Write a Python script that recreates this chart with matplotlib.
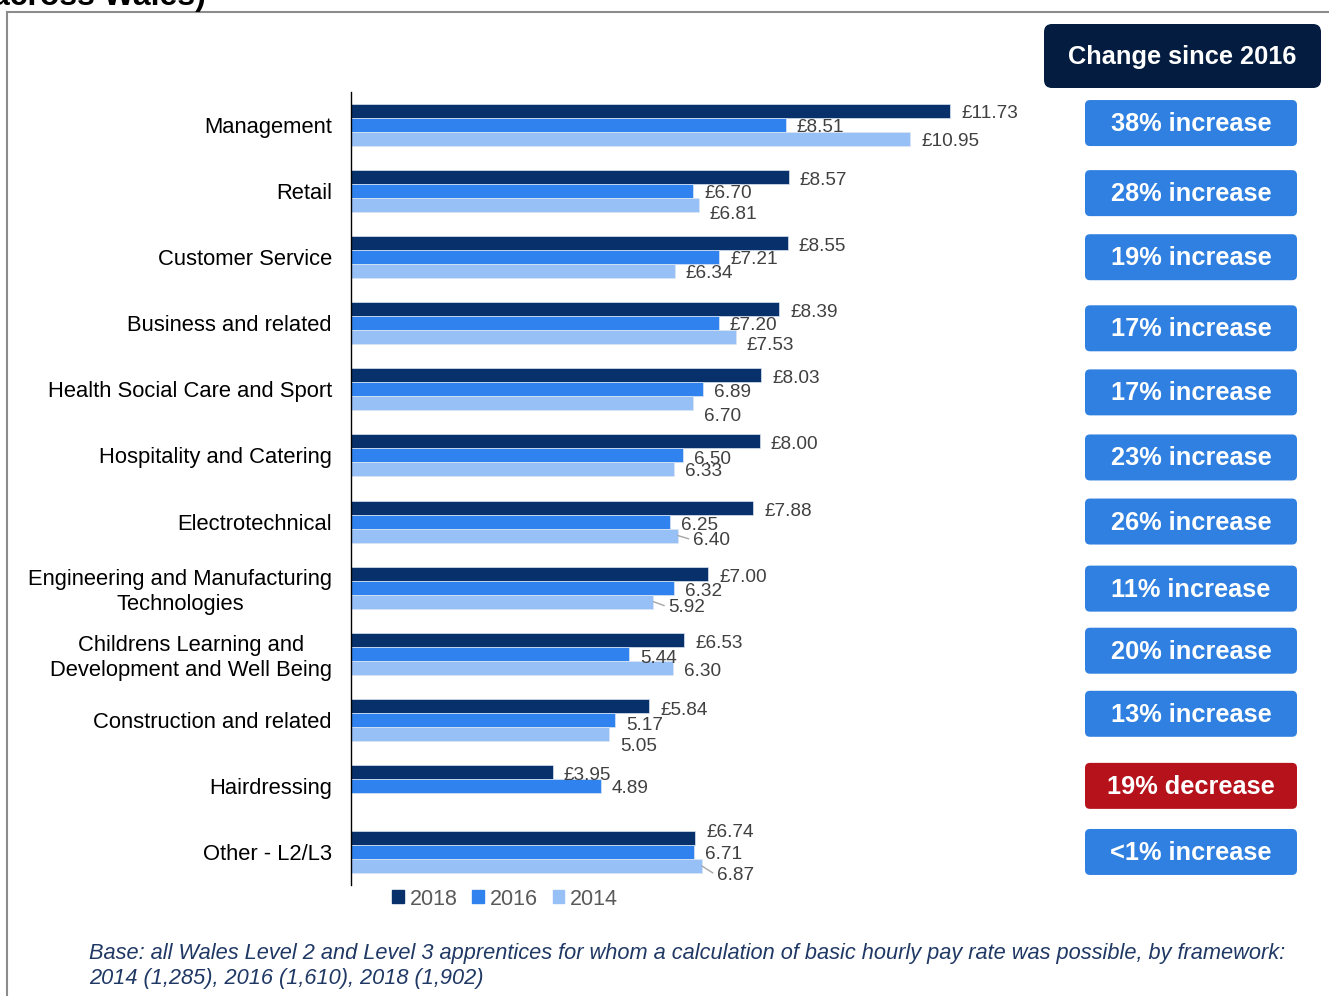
import matplotlib
matplotlib.use("Agg")
import matplotlib.pyplot as plt
import numpy as np
from matplotlib.patches import Patch, FancyBboxPatch
from matplotlib.lines import Line2D

plt.rcParams['font.family'] = ['Liberation Sans', 'DejaVu Sans']

# データ
categories = ["Management", "Retail", "Customer Service", "Business and related",
              "Health Social Care and Sport", "Hospitality and Catering",
              "Electrotechnical", "Engineering and Manufacturing\nTechnologies",
              "Childrens Learning and\nDevelopment and Well Being",
              "Construction and related", "Hairdressing", "Other - L2/L3"]
pay_2018 = [11.73, 8.57, 8.55, 8.39, 8.03, 8.00, 7.88, 7.00, 6.53, 5.84, 3.95, 6.74]
pay_2016 = [8.51, 6.70, 7.21, 7.20, 6.89, 6.50, 6.25, 6.32, 5.44, 5.17, 4.89, 6.71]
pay_2014 = [10.95, 6.81, 6.34, 7.53, 6.70, 6.33, 6.40, 5.92, 6.30, 5.05, np.nan, 6.87]
changes = ["38% increase", "28% increase", "19% increase", "17% increase", "17% increase",
           "23% increase", "26% increase", "11% increase", "20% increase", "13% increase",
           "19% decrease", "<1% increase"]
years = ["2018", "2016", "2014"]
pound_rows = 4  # 2016/2014 の最初の4行だけ £ 付き

# 色
c2018 = "#08306B"
c2016 = "#3083EE"
c2014 = "#97C0F7"
c_up = "#2F80E0"
c_down = "#B5121B"

# ラベル位置の微調整 (画素, 下向き正)
dy_2018 = [0, 1, 1, 1, 1, 1, 1, 1, 1, 2, 1, -8]
dy_2016 = [0, 0, 0, 0, 1, 2, 1, 1, 2, 3, 0, 0]
dy_2014 = [0, 7, 0, 6, 11, 0, 2, 3, 1, 10, 0, 7]
leader_2014 = [6, 7, 11]
box_dy = [-2, 2, 0, 5, 3, 2, 0, 1, -3, -6, 0, 0]

W, H = 1329, 996
fig = plt.figure(figsize=(W / 100, H / 100), dpi=100)
ax = fig.add_axes([351 / W, 1 - 885 / H, 680 / W, 793 / H])

y = np.arange(len(categories))
bh = 0.212
series = [(pay_2018, c2018, -bh, dy_2018), (pay_2016, c2016, 0, dy_2016), (pay_2014, c2014, bh, dy_2014)]
for k, (vals, col, off, dys) in enumerate(series):
    ax.barh(y + off, vals, height=bh, color=col, edgecolor="#DCE6F2", linewidth=0.5,
            label=years[k])
    for i, v in enumerate(vals):
        if np.isnan(v):
            continue
        if k == 0 or i < pound_rows:
            txt = "£%.2f" % v
        else:
            txt = "%.2f" % v
        if k == 2 and i in leader_2014:
            ax.annotate(txt, (v, y[i] + off), xytext=(15, -7 - dys[i]), textcoords="offset pixels",
                        va="baseline", ha="left", fontsize=13.7, color="#404040",
                        arrowprops=dict(arrowstyle="-", color="#A6A6A6", lw=1,
                                        shrinkA=1, shrinkB=0, relpos=(0, 0.5)))
        else:
            ax.annotate(txt, (v, y[i] + off), xytext=(11, -7 - dys[i]), textcoords="offset pixels",
                        va="baseline", ha="left", fontsize=13.7, color="#404040")

ax.set_xlim(0, 680 / 51.07)
ax.set_ylim(len(categories) - 0.5, -0.5)
ax.set_yticks(y)
ax.set_yticklabels(categories, fontsize=15.8, color="black", multialignment="center",
                   linespacing=1.22)
ax.tick_params(axis="y", length=0, pad=13.7)
ax.set_xticks([])
for s in ["top", "right", "bottom"]:
    ax.spines[s].set_visible(False)
ax.spines["left"].set_color("black")
ax.spines["left"].set_linewidth(1)

# 凡例
handles = [Patch(color=c2018), Patch(color=c2016), Patch(color=c2014)]
fig.legend(handles, years, loc="center", bbox_to_anchor=(505 / W, 1 - 899 / H), ncol=3,
           frameon=False, fontsize=15.5, labelcolor="#595959", handlelength=0.55,
           handleheight=0.55, handletextpad=0.25, columnspacing=0.7)

# オーバーレイ (画素座標)
ov = fig.add_axes([0, 0, 1, 1])
ov.set_xlim(0, W)
ov.set_ylim(H, 0)
ov.axis("off")
ov.set_zorder(-1)

ov.add_line(Line2D([7, 7], [12, H + 5], color="#8C8C8C", lw=1.5))
ov.add_line(Line2D([7, W + 5], [12, 12], color="#8C8C8C", lw=1.5))
fig.text(-8 / W, 1 - 5 / H, "across Wales)", fontsize=23, fontweight="bold", va="baseline")

ov.add_patch(FancyBboxPatch((1044, 24), 277, 64, boxstyle="round,pad=0,rounding_size=8",
                            facecolor="#031C3F", edgecolor="none"))
ov.text(1182.5, 57, "Change since 2016", ha="center", va="center", color="white",
        fontsize=18.3, fontweight="bold")

inv = ov.transData.inverted()
for i, ch in enumerate(changes):
    yc = inv.transform(ax.transData.transform((0, y[i])))[1] + box_dy[i]
    col = c_down if "decrease" in ch else c_up
    ov.add_patch(FancyBboxPatch((1085, yc - 23), 212, 46, boxstyle="round,pad=0,rounding_size=5",
                                facecolor=col, edgecolor="none"))
    ov.text(1191, yc + 1, ch, ha="center", va="center", color="white", fontsize=18.3,
            fontweight="bold")

ov.text(89, 966, "Base: all Wales Level 2 and Level 3 apprentices for whom a calculation of basic hourly pay rate was possible, by framework:\n2014 (1,285), 2016 (1,610), 2018 (1,902)",
        ha="left", va="center", fontsize=15.7, style="italic", color="#1F3864", linespacing=1.25)

fig.savefig("out.png", dpi=100)
